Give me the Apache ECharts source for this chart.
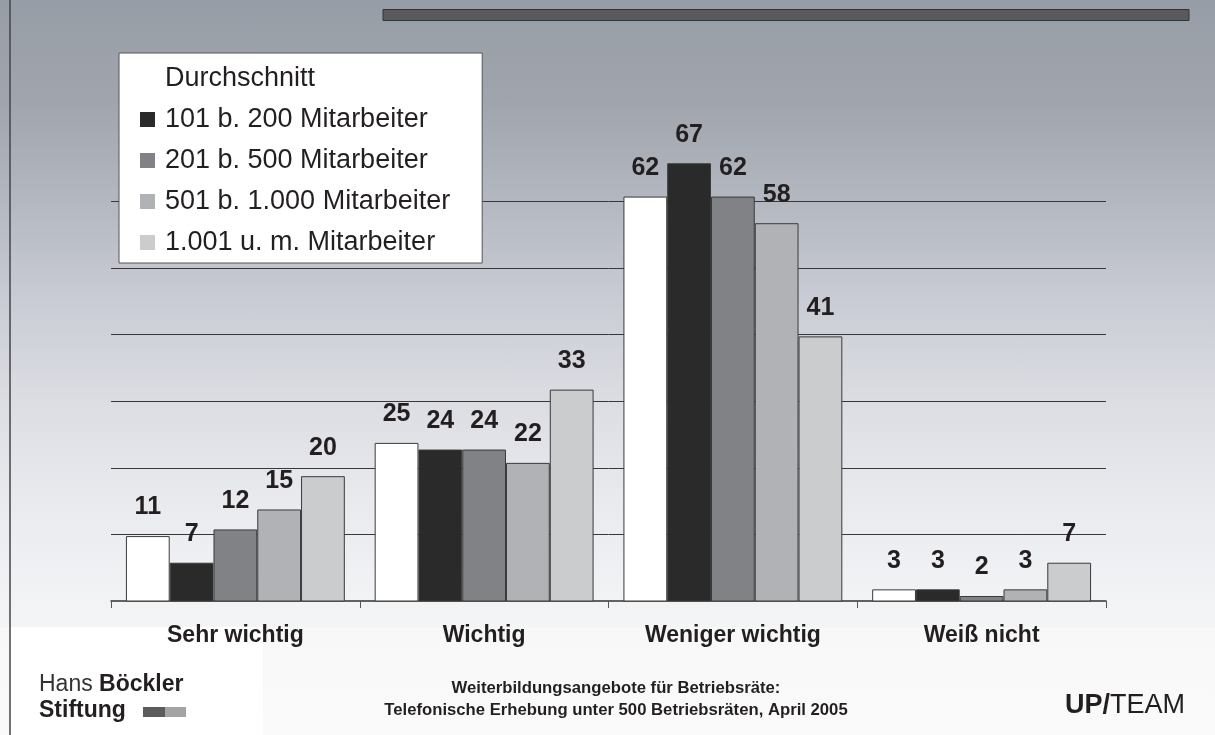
<!DOCTYPE html>
<html>
<head>
<meta charset="utf-8">
<script src="https://cdn.jsdelivr.net/npm/echarts@6/dist/echarts.min.js"></script>
<style>
  html, body { margin: 0; padding: 0; }
  #main {
    width: 1215px;
    height: 735px;
    background: linear-gradient(to bottom,
      #979da6 0px, #a0a5ad 100px, #b3b7bf 200px, #c9ccd4 300px,
      #dcdde3 400px, #e9eaee 500px, #f2f3f5 600px, #f3f4f5 627px,
      #f8f8f9 628px, #fafafa 735px);
  }
</style>
</head>
<body>
<div id="main"></div>
<script>
// Weiterbildungsangebote - Wichtigkeit nach Betriebsgröße (Angaben in %)
const categories = ['Sehr wichtig', 'Wichtig', 'Weniger wichtig', 'Weiß nicht']
const seriesNames = ['Durchschnitt', '101 b. 200 Mitarbeiter', '201 b. 500 Mitarbeiter', '501 b. 1.000 Mitarbeiter', '1.001 u. m. Mitarbeiter']
const durchschnitt = [11, 25, 62, 3]
const ma101bis200 = [7, 24, 67, 3]
const ma201bis500 = [12, 24, 62, 2]
const ma501bis1000 = [15, 22, 58, 3]
const ma1001plus = [20, 33, 41, 7]
const barColors = ['#ffffff', '#2b2a2b', '#818286', '#b1b2b5', '#cbccce']

const font = "'Liberation Sans', Arial, Helvetica, sans-serif"
const textColor = '#231f20'

const chartDom = document.getElementById('main')
const myChart = echarts.init(chartDom)

const seriesData = [durchschnitt, ma101bis200, ma201bis500, ma501bis1000, ma1001plus]

const option = {
  animation: false,
  textStyle: { fontFamily: font },
  grid: {
    left: 111,
    right: 109,
    top: 135,
    bottom: 134,
  },
  legend: {
    orient: 'vertical',
    left: 119,
    top: 53,
    padding: [12, 32, 7, 21],
    itemGap: 14,
    itemWidth: 15,
    itemHeight: 15,
    icon: 'rect',
    backgroundColor: '#ffffff',
    borderColor: '#555555',
    borderWidth: 1,
    itemStyle: { borderWidth: 0 },
    textStyle: {
      fontSize: 27,
      lineHeight: 27,
      color: textColor,
      fontFamily: font,
      padding: [0, 0, 0, 5],
    },
    data: seriesNames,
  },
  xAxis: {
    type: 'category',
    data: categories,
    axisLine: { lineStyle: { color: '#333333', width: 1.5 } },
    axisTick: { show: true, length: 7, lineStyle: { color: '#555555' } },
    axisLabel: {
      margin: 23,
      fontSize: 23,
      fontWeight: 'bold',
      color: textColor,
      fontFamily: font,
    },
  },
  yAxis: {
    type: 'value',
    min: 1.25,
    max: 71.25,
    interval: 10,
    axisLine: { show: false },
    axisTick: { show: false },
    axisLabel: { show: false },
    splitLine: {
      show: true,
      showMinLine: false,
      showMaxLine: false,
      lineStyle: { color: '#383838', width: 1 },
    },
  },
  series: seriesNames.map((name, i) => ({
    name: name,
    type: 'bar',
    data: seriesData[i],
    clip: true,
    barGap: '0%',
    barCategoryGap: '12%',
    itemStyle: {
      color: barColors[i],
      borderColor: '#3a3a3a',
      borderWidth: 1,
    },
    label: {
      show: true,
      position: 'top',
      distance: 16,
      fontSize: 25,
      fontWeight: 'bold',
      color: textColor,
      fontFamily: font,
    },
  })),
  title: [
    {
      text: '{r|Hans }{b|Böckler}',
      left: 39,
      top: 673,
      padding: 0,
      textStyle: {
        rich: {
          r: { fontSize: 23, fontWeight: 'normal', color: '#333333', fontFamily: font },
          b: { fontSize: 23, fontWeight: 'bold', color: textColor, fontFamily: font },
        },
      },
    },
    {
      text: 'Stiftung',
      left: 39,
      top: 699,
      padding: 0,
      textStyle: { fontSize: 23, fontWeight: 'bold', color: textColor, fontFamily: font },
    },
    {
      text: 'Weiterbildungsangebote für Betriebsräte:',
      left: 616,
      textAlign: 'center',
      top: 680,
      padding: 0,
      textStyle: { fontSize: 16.7, fontWeight: 'bold', color: textColor, fontFamily: font },
    },
    {
      text: 'Telefonische Erhebung unter 500 Betriebsräten, April 2005',
      left: 616,
      textAlign: 'center',
      top: 702,
      padding: 0,
      textStyle: { fontSize: 16.7, fontWeight: 'bold', color: textColor, fontFamily: font },
    },
    {
      text: '{b|UP/}{r|TEAM}',
      left: 1065,
      top: 692,
      padding: 0,
      textStyle: {
        rich: {
          b: { fontSize: 27, fontWeight: 'bold', color: textColor, fontFamily: font },
          r: { fontSize: 27, fontWeight: 'normal', color: textColor, fontFamily: font },
        },
      },
    },
  ],
  graphic: [
    // white logo area bottom left
    {
      type: 'rect',
      z: -10,
      shape: { x: 10, y: 627, width: 253, height: 108 },
      style: { fill: '#ffffff' },
    },
    // left frame line
    {
      type: 'line',
      z: 10,
      shape: { x1: 10, y1: 0, x2: 10, y2: 735 },
      style: { stroke: '#444444', lineWidth: 1.5 },
    },
    // dark banner at top
    {
      type: 'rect',
      shape: { x: 383, y: 9.5, width: 806, height: 11 },
      style: { fill: '#5a5a5c', stroke: '#333333', lineWidth: 1 },
    },
    // logo blocks
    {
      type: 'rect',
      shape: { x: 143, y: 707, width: 22, height: 10 },
      style: { fill: '#5c5c5c' },
    },
    {
      type: 'rect',
      shape: { x: 165, y: 707, width: 21, height: 10 },
      style: { fill: '#a4a4a4' },
    },
  ],
}

option && myChart.setOption(option)
</script>
</body>
</html>
